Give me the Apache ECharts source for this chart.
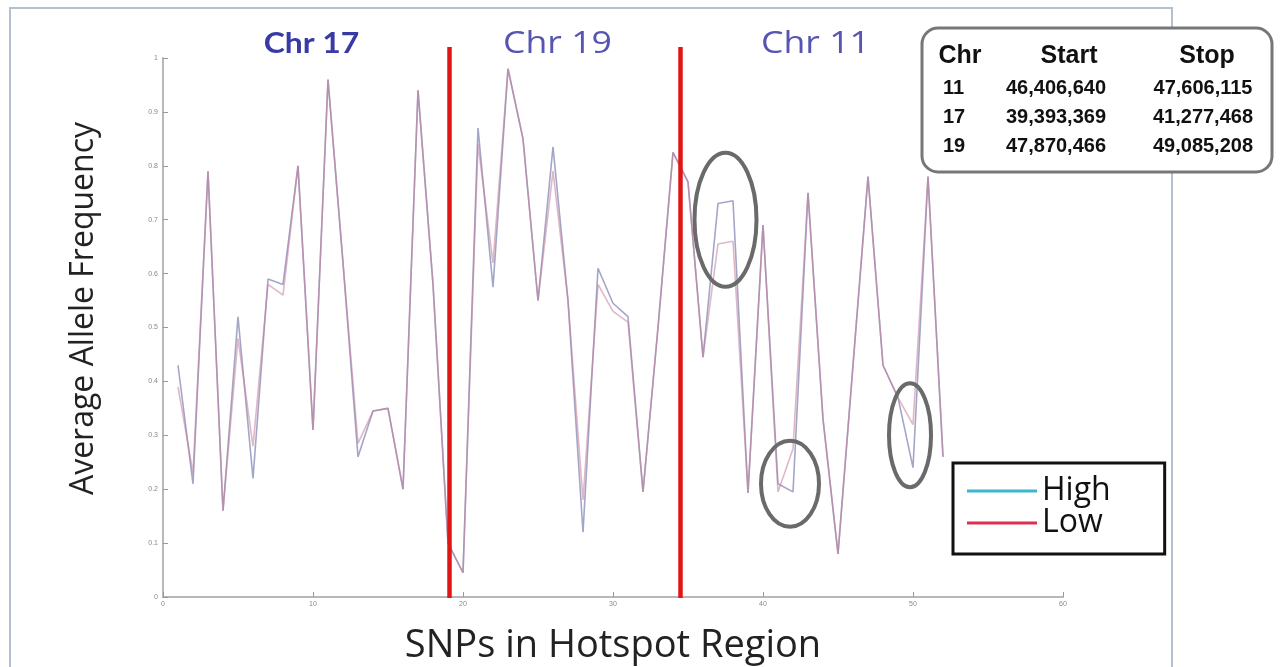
<!DOCTYPE html>
<html>
<head>
<meta charset="utf-8">
<script src="https://cdn.jsdelivr.net/npm/echarts@6/dist/echarts.min.js"></script>
<style>
  html, body { margin: 0; padding: 0; background: #ffffff; }
  #chart { width: 1280px; height: 667px; }
</style>
</head>
<body>
<div id="chart"></div>
<script>
// SNP positions along the hotspot region
const snpIndex = [
  1, 2, 3, 4, 5, 6, 7, 8, 9, 10, 11, 12, 13, 14, 15, 16, 17, 18, 19, 20,
  21, 22, 23, 24, 25, 26, 27, 28, 29, 30, 31, 32, 33, 34, 35, 36, 37, 38, 39, 40,
  41, 42, 43, 44, 45, 46, 47, 48, 49, 50, 51, 52
];

// Average allele frequency, high group
const highFreq = [
  0.43, 0.21, 0.79, 0.16, 0.52, 0.22, 0.59, 0.58, 0.80, 0.31,
  0.96, 0.62, 0.26, 0.345, 0.35, 0.20, 0.94, 0.58, 0.10, 0.045,
  0.87, 0.575, 0.98, 0.85, 0.55, 0.835, 0.55, 0.12, 0.61, 0.545,
  0.52, 0.195, 0.50, 0.825, 0.77, 0.445, 0.73, 0.735, 0.193, 0.69,
  0.21, 0.195, 0.75, 0.33, 0.08, 0.43, 0.78, 0.43, 0.37, 0.24,
  0.78, 0.26
];

// Average allele frequency, low group
const lowFreq = [
  0.39, 0.23, 0.79, 0.16, 0.48, 0.28, 0.58, 0.56, 0.80, 0.31,
  0.96, 0.62, 0.285, 0.345, 0.35, 0.20, 0.94, 0.58, 0.10, 0.045,
  0.84, 0.62, 0.98, 0.85, 0.55, 0.79, 0.55, 0.18, 0.58, 0.53,
  0.51, 0.195, 0.50, 0.825, 0.77, 0.445, 0.655, 0.66, 0.193, 0.69,
  0.195, 0.275, 0.75, 0.33, 0.08, 0.43, 0.78, 0.43, 0.37, 0.32,
  0.78, 0.26
];

// Chromosome boundaries along the SNP axis
const chrBoundaries = [19.1, 34.5];
const chrNames = ['Chr 17', 'Chr 19', 'Chr 11'];
const chrLabelX = [9.9, 26.3, 43.5];
const chrLabelBold = [true, false, false];

// Hotspot coordinates table
const tableHeader = ['Chr', 'Start', 'Stop'];
const tableChr = ['11', '17', '19'];
const tableStart = ['46,406,640', '39,393,369', '47,870,466'];
const tableStop = ['47,606,115', '41,277,468', '49,085,208'];

// Highlighted spots where the two groups diverge: [x, y] centre and pixel radii
const highlightCenters = [[37.5, 0.70], [41.8, 0.21], [49.8, 0.30]];
const highlightRadii = [[31, 67], [29, 43], [21, 52]];

const chart = echarts.init(document.getElementById('chart'));

const uiFont = '"Open Sans", Lato, sans-serif';

chart.setOption({
  backgroundColor: '#ffffff',
  animation: false,
  grid: {
    left: 163, right: 217, top: 58, bottom: 70,
    containLabel: false, outerBoundsMode: 'none'
  },
  xAxis: {
    type: 'value', min: 0, max: 60, interval: 10,
    name: 'SNPs in Hotspot Region',
    nameLocation: 'middle', nameGap: 30,
    nameTextStyle: { fontSize: 38, fontFamily: uiFont, color: '#222' },
    axisLine: { lineStyle: { color: '#b8b8b8', width: 2 } },
    axisTick: { inside: true, length: 5, lineStyle: { color: '#999', width: 1 } },
    axisLabel: { fontSize: 7, color: '#888', margin: 4 },
    splitLine: { show: false }
  },
  yAxis: {
    type: 'value', min: 0, max: 1, interval: 0.1,
    name: 'Average Allele Frequency',
    nameLocation: 'middle', nameGap: 63,
    nameTextStyle: { fontSize: 32, fontFamily: uiFont, color: '#222', padding: [0, 0, 0, 38] },
    axisLine: { show: true, lineStyle: { color: '#b8b8b8', width: 2 } },
    axisTick: { show: true, inside: true, length: 5, lineStyle: { color: '#999', width: 1 } },
    axisLabel: {
      fontSize: 7, color: '#888', margin: 5,
      formatter: function (v) { return String(+v.toFixed(1)); }
    },
    splitLine: { show: false }
  },
  legend: {
    orient: 'vertical',
    left: 953, top: 463,
    padding: [12, 54, 15, 14],
    borderColor: '#111', borderWidth: 3,
    backgroundColor: '#fff',
    icon: 'rect',
    itemWidth: 70, itemHeight: 3, itemGap: 0,
    textStyle: { fontSize: 32, fontFamily: uiFont, color: '#111', lineHeight: 29 },
    data: [
      { name: 'High', itemStyle: { color: '#3cb6cf' } },
      { name: 'Low', itemStyle: { color: '#dc3050' } }
    ]
  },
  series: [
    {
      name: 'High', type: 'line', symbol: 'none',
      data: snpIndex.map((x, i) => [x, highFreq[i]]),
      lineStyle: { color: 'rgba(125,128,175,0.7)', width: 1.6 },
      itemStyle: { color: 'rgba(125,128,175,0.7)' },
      z: 2
    },
    {
      name: 'Low', type: 'line', symbol: 'none',
      data: snpIndex.map((x, i) => [x, lowFreq[i]]),
      lineStyle: { color: 'rgba(195,125,155,0.55)', width: 1.6 },
      itemStyle: { color: 'rgba(195,125,155,0.55)' },
      z: 3
    }
  ]
});

// Overlay: frame, chromosome boundaries, labels, highlight ellipses and the coordinates table
function toPx(x, y) {
  return chart.convertToPixel({ xAxisIndex: 0, yAxisIndex: 0 }, [x, y]);
}

const overlay = [];

overlay.push({
  type: 'rect', z: 0, silent: true,
  shape: { x: 10, y: 8, width: 1162, height: 690 },
  style: { fill: 'none', stroke: '#b4c0d0', lineWidth: 2 }
});

const yTop = toPx(0, 1)[1];
const yBottom = toPx(0, 0)[1];
chrBoundaries.forEach(function (b) {
  const px = toPx(b, 0)[0];
  overlay.push({
    type: 'line', z: 10, silent: true,
    shape: { x1: px, y1: yTop - 11, x2: px, y2: yBottom + 1 },
    style: { stroke: '#e01515', lineWidth: 4.5 }
  });
});

chrNames.forEach(function (name, i) {
  const px = toPx(chrLabelX[i], 0)[0];
  const bold = chrLabelBold[i];
  overlay.push({
    type: 'text', z: 10, silent: true,
    x: px, y: 44,
    scaleX: bold ? 1.1 : 1.15,
    style: {
      text: name, align: 'center', verticalAlign: 'middle',
      fontSize: bold ? 29 : 31,
      fontFamily: bold ? 'Lato, sans-serif' : uiFont,
      fontWeight: bold ? 'bold' : 'normal',
      fill: bold ? '#3a3aa6' : '#5656b2'
    }
  });
});

highlightCenters.forEach(function (c, i) {
  const p = toPx(c[0], c[1]);
  overlay.push({
    type: 'ellipse', z: 12, silent: true,
    shape: { cx: p[0], cy: p[1], rx: highlightRadii[i][0], ry: highlightRadii[i][1] },
    style: { fill: 'none', stroke: '#6a6a6a', lineWidth: 4 }
  });
});

// Coordinates table
const tableFont = '"Liberation Sans", Arial, sans-serif';
overlay.push({
  type: 'rect', z: 12, silent: true,
  shape: { x: 922, y: 28, width: 350, height: 144, r: 16 },
  style: { fill: '#ffffff', stroke: '#777777', lineWidth: 3 }
});
const colX = [960, 1069, 1207];
tableHeader.forEach(function (h, i) {
  overlay.push({
    type: 'text', z: 13, silent: true, x: colX[i], y: 56,
    style: { text: h, align: 'center', verticalAlign: 'middle', fontSize: 25,
      fontWeight: 'bold', fontFamily: tableFont, fill: '#111' }
  });
});
const rowY = [88, 117, 146];
tableChr.forEach(function (c, r) {
  overlay.push({
    type: 'text', z: 13, silent: true, x: 943, y: rowY[r],
    style: { text: c, align: 'left', verticalAlign: 'middle', fontSize: 20,
      fontWeight: 'bold', fontFamily: tableFont, fill: '#111' }
  });
  overlay.push({
    type: 'text', z: 13, silent: true, x: 1056, y: rowY[r],
    style: { text: tableStart[r], align: 'center', verticalAlign: 'middle', fontSize: 20,
      fontWeight: 'bold', fontFamily: tableFont, fill: '#111' }
  });
  overlay.push({
    type: 'text', z: 13, silent: true, x: 1203, y: rowY[r],
    style: { text: tableStop[r], align: 'center', verticalAlign: 'middle', fontSize: 20,
      fontWeight: 'bold', fontFamily: tableFont, fill: '#111' }
  });
});

chart.setOption({ graphic: overlay });
</script>
</body>
</html>
